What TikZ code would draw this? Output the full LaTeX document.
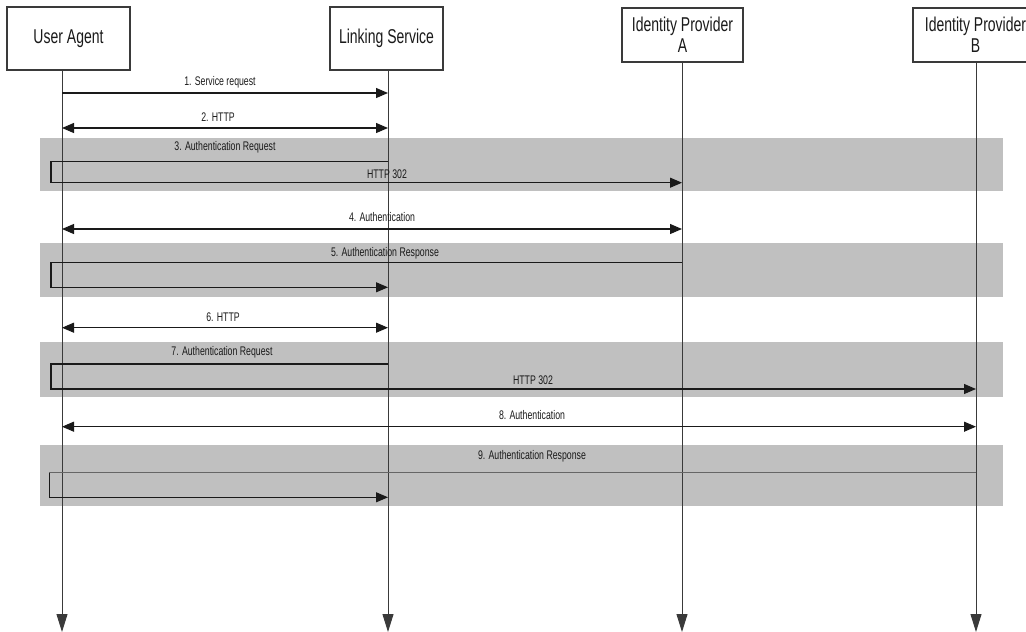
\documentclass[tikz,border=0pt]{standalone}
\usepackage{fontspec}
\setmainfont{Liberation Sans}[FakeStretch=0.7]
\usetikzlibrary{arrows.meta}
\definecolor{band}{HTML}{C0C0C0}
\definecolor{ink}{HTML}{1A1A1A}
\definecolor{rule}{HTML}{3A3A3A}
\begin{document}
\begin{tikzpicture}[x=1pt,y=-1pt,
  actor/.style={draw=rule, line width=1.1pt, fill=white, inner sep=0pt,
    align=center, font=\fontsize{20}{21}\selectfont, text=ink},
  life/.style={draw=rule, line width=1pt, -{Triangle[length=18pt,width=11pt]}},
  msg/.style={draw=ink, line width=1.1pt, >={Triangle[length=12pt,width=10pt]}, ->},
  dmsg/.style={msg, <->},
  lbl/.style={font=\fontsize{12.5}{13}\selectfont, text=ink, inner sep=0pt},
  bandbox/.style={fill=band, draw=none}]

\useasboundingbox (0,0) rectangle (1026,632);
\clip (0,0) rectangle (1026,632);

% shaded groups behind the redirect exchanges
\fill[bandbox] (40,138.3) rectangle (1003,191);
\fill[bandbox] (40,242.7) rectangle (1003,296.7);
\fill[bandbox] (40,342) rectangle (1003,397);
\fill[bandbox] (40,445) rectangle (1003,506);

% participants
\node[actor, minimum width=123pt, minimum height=63pt] (ua) at (68.5,38.5) {User Agent};
\node[actor, minimum width=113pt, minimum height=63pt] (ls) at (386.5,38.5) {Linking Service};
\node[actor, minimum width=121pt, minimum height=54pt] (ipa) at (682.5,35) {Identity Provider\\A};
\node[actor, minimum width=125pt, minimum height=54pt] (ipb) at (975.5,35) {Identity Provider\\B};

% lifeline ends
\coordinate (uaTop) at (62,0 |- ua.south);
\coordinate (lsTop) at (388,0 |- ls.south);
\coordinate (ipaTop) at (682,0 |- ipa.south);
\coordinate (ipbTop) at (976,0 |- ipb.south);
\coordinate (uaBot) at (62,632);
\coordinate (lsBot) at (388,632);
\coordinate (ipaBot) at (682,632);
\coordinate (ipbBot) at (976,632);

\draw[life] (uaTop) -- (uaBot);
\draw[life] (lsTop) -- (lsBot);
\draw[life] (ipaTop) -- (ipaBot);
\draw[life] (ipbTop) -- (ipbBot);

% 1 and 2
\draw[msg] (uaTop |- 0,93) -- (lsTop |- 0,93);
\node[lbl] (l1) at (220,82) {1. Service request};
\draw[dmsg] (uaTop |- 0,128) -- (lsTop |- 0,128);
\node[lbl] (l2) at (218,117) {2. HTTP};

% 3: redirect to provider A
\draw[msg] (lsTop |- 0,161.7) -- (51,161.7) -- (51,182.7) -- (ipaTop |- 0,182.7);
\node[lbl] (l3) at (225,147) {3. Authentication Request};
\node[lbl] (l3b) at (387,174) {HTTP 302};

% 4
\draw[dmsg] (uaTop |- 0,229) -- (ipaTop |- 0,229);
\node[lbl] (l4) at (382,217) {4. Authentication};

% 5: response back to the linking service
\draw[msg] (ipaTop |- 0,262.3) -- (51,262.3) -- (51,287.3) -- (lsTop |- 0,287.3);
\node[lbl] (l5) at (385,253) {5. Authentication Response};

% 6
\draw[dmsg] (uaTop |- 0,327.7) -- (lsTop |- 0,327.7);
\node[lbl] (l6) at (223,317) {6. HTTP};

% 7: redirect to provider B
\draw[msg] (lsTop |- 0,364) -- (51,364) -- (51,389) -- (ipbTop |- 0,389);
\node[lbl] (l7) at (222,352) {7. Authentication Request};
\node[lbl] (l7b) at (533,380) {HTTP 302};

% 8
\draw[dmsg] (uaTop |- 0,426.7) -- (ipbTop |- 0,426.7);
\node[lbl] (l8) at (532,415) {8. Authentication};

% 9: response back to the linking service
\coordinate (bend9) at (49.3,472.7);
\draw[draw=gray!80!black, line width=1.1pt] (ipbTop |- 0,472.7) -- (bend9);
\draw[msg] (bend9) -- (49.3,497.3) -- (lsTop |- 0,497.3);
\node[lbl] (l9) at (532,456) {9. Authentication Response};
\end{tikzpicture}
\end{document}
